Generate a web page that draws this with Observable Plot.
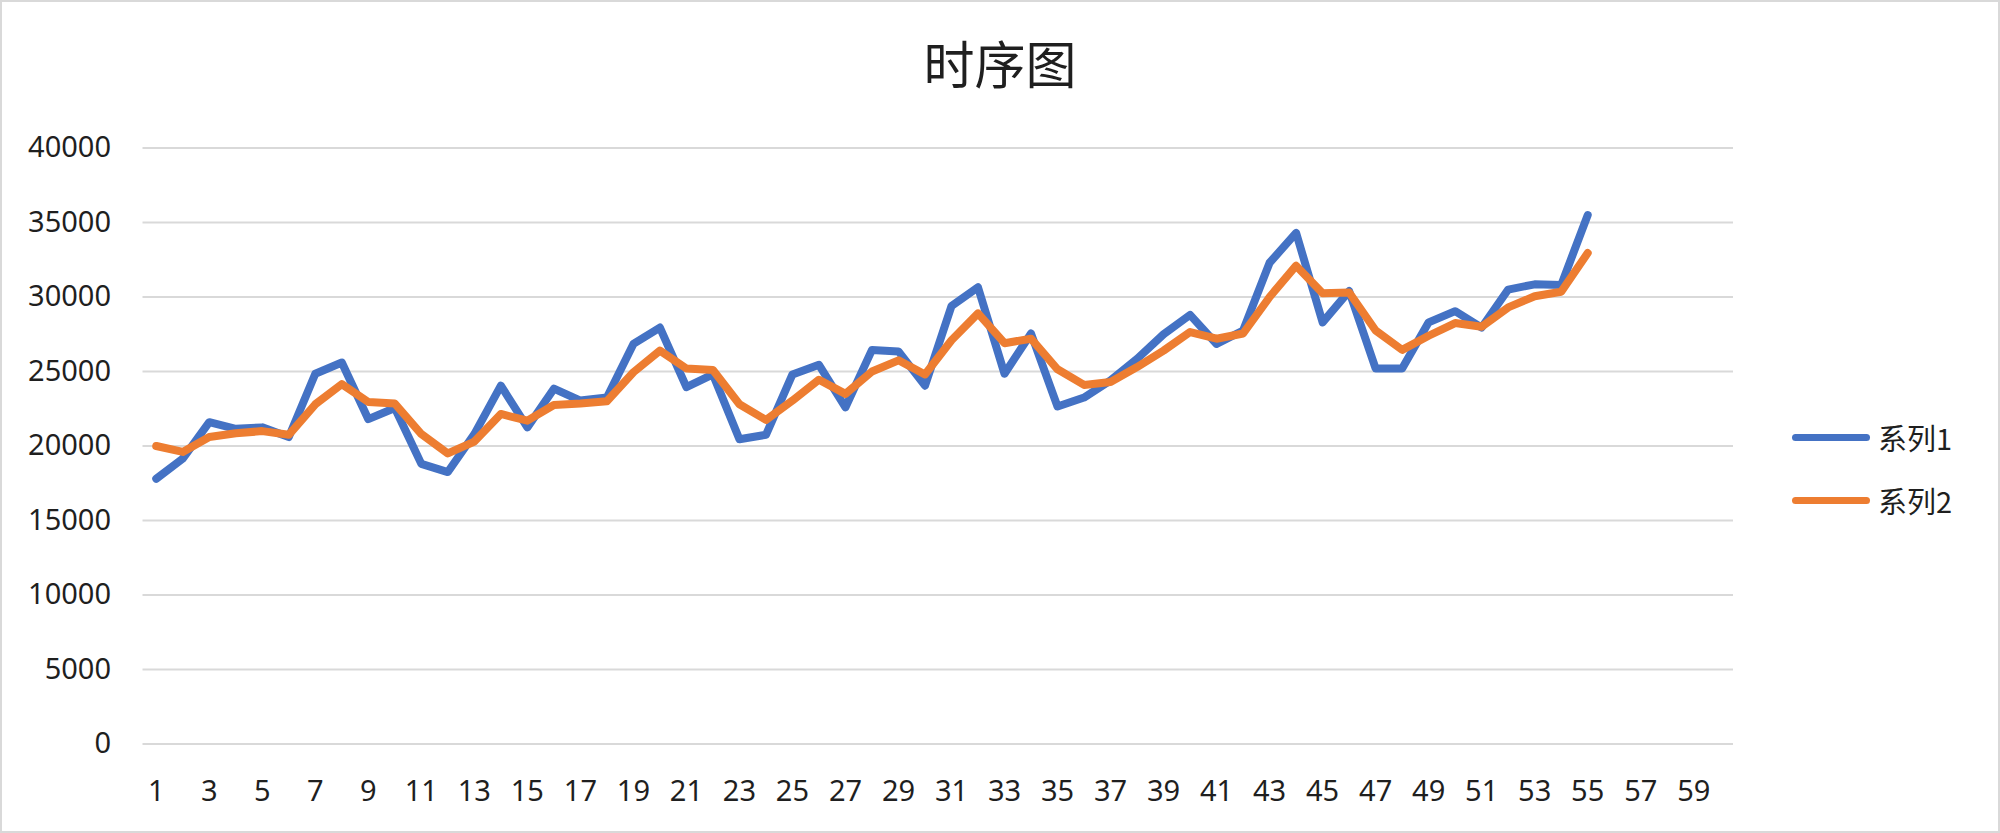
<!DOCTYPE html>
<html>
<head>
<meta charset="utf-8">
<script src="https://cdn.jsdelivr.net/npm/d3@7"></script>
<script src="https://cdn.jsdelivr.net/npm/@observablehq/plot@0.6"></script>
<style>
  html, body { margin: 0; padding: 0; background: #fff; }
  #chart { position: relative; width: 2000px; height: 833px; overflow: hidden; background: #fff;
           font-family: "Noto Sans", "Noto Sans CJK SC", sans-serif; color: #262626; }
  #frame { position: absolute; left: 0; top: 0; width: 2000px; height: 833px; box-sizing: border-box;
           border: 2px solid #d9d9d9; pointer-events: none; }
  #title { height: 100px; box-sizing: border-box; padding-top: 37px; text-align: center;
           font-family: "Noto Sans CJK SC", sans-serif; font-size: 51px; line-height: 51px; color: #1f1f1f; }
  #plot svg { display: block; }
  .legend { position: absolute; left: 1792px; display: flex; align-items: center; height: 40px; }
  .legend .sw { width: 78px; height: 7px; border-radius: 4px; }
  .legend .lb { margin-left: 8px; font-family: "Noto Sans CJK SC", sans-serif; font-size: 29px; line-height: 40px; color: #1f1f1f; }
</style>
</head>
<body>
<div id="chart">
  <div id="title"></div>
  <div id="plot"></div>
  <div id="legend"></div>
  <div id="frame"></div>
</div>
<script>
const titleText = "时序图";
const seriesNames = ["系列1", "系列2"];
const seriesColors = ["#4472C4", "#ED7D31"];
const categories = [1,2,3,4,5,6,7,8,9,10,11,12,13,14,15,16,17,18,19,20,21,22,23,24,25,26,27,28,29,30,
                    31,32,33,34,35,36,37,38,39,40,41,42,43,44,45,46,47,48,49,50,51,52,53,54,55,56,57,58,59,60];
const xTickLabels = [1,3,5,7,9,11,13,15,17,19,21,23,25,27,29,31,33,35,37,39,41,43,45,47,49,51,53,55,57,59];
const yTickLabels = [0,5000,10000,15000,20000,25000,30000,35000,40000];
const series1 = [17800,19150,21600,21150,21250,20600,24850,25600,21800,22550,
                 18800,18250,20800,24050,21250,23850,23050,23250,26850,27950,
                 23950,24800,20450,20750,24800,25450,22600,26450,26350,24050,
                 29400,30650,24850,27550,22650,23250,24400,25850,27500,28800,
                 26850,27750,32300,34300,28300,30400,25200,25200,28300,29050,
                 27950,30500,30850,30800,35500];
const series2 = [20000,19600,20600,20850,21000,20750,22800,24150,22950,22850,
                 20800,19500,20300,22150,21700,22750,22850,23000,24950,26400,
                 25200,25100,22800,21750,23050,24450,23500,25000,25750,24800,
                 27100,28900,26900,27200,25150,24100,24300,25300,26400,27650,
                 27200,27550,30000,32100,30250,30300,27750,26450,27400,28250,
                 28000,29300,30050,30350,32950];

const rows = [];
[series1, series2].forEach((vals, k) => {
  vals.forEach((v, i) => rows.push({x: categories[i], y: v, s: seriesNames[k]}));
});

document.getElementById("title").textContent = titleText;

const fontFam = '"Noto Sans", "Noto Sans CJK SC", sans-serif';
const plot = Plot.plot({
  width: 2000,
  height: 733,
  marginTop: 47.5,
  marginBottom: 89.5,
  marginLeft: 142.5,
  marginRight: 267,
  style: { fontFamily: fontFam, fontSize: "29px", color: "#1f1f1f", background: "#fff" },
  x: { type: "point", domain: categories, padding: 0.5, round: false },
  y: { domain: [0, 40000] },
  color: { domain: seriesNames, range: seriesColors },
  marks: [
    Plot.gridY(yTickLabels, { stroke: "#d9d9d9", strokeOpacity: 1, strokeWidth: 2 }),
    Plot.axisY(yTickLabels, { tickSize: 0, tickPadding: 32, label: null, fontSize: 29, fill: "#1f1f1f",
                              tickFormat: d => String(d) }),
    Plot.axisX(xTickLabels, { tickSize: 0, tickPadding: 36, label: null, fontSize: 29, fill: "#1f1f1f",
                              tickFormat: d => String(d) }),
    Plot.line(rows, { x: "x", y: "y", z: "s", stroke: "s", strokeWidth: 8,
                      strokeLinejoin: "round", strokeLinecap: "round" })
  ]
});
document.getElementById("plot").appendChild(plot);

const legend = document.getElementById("legend");
const legendY = [437, 500];
seriesNames.forEach((name, k) => {
  const item = document.createElement("div");
  item.className = "legend";
  item.style.top = (legendY[k] - 20) + "px";
  const sw = document.createElement("div");
  sw.className = "sw";
  sw.style.background = seriesColors[k];
  const lb = document.createElement("div");
  lb.className = "lb";
  lb.textContent = name;
  item.appendChild(sw);
  item.appendChild(lb);
  legend.appendChild(item);
});
</script>
</body>
</html>
